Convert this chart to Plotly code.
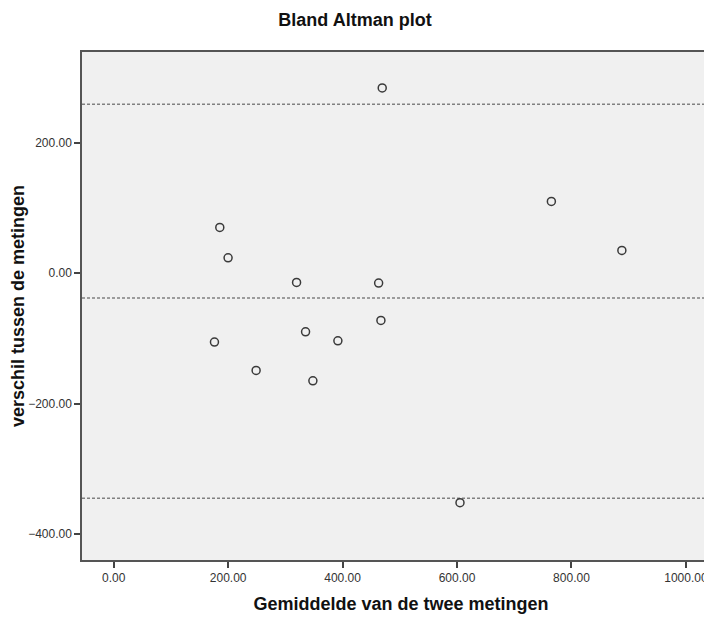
import plotly.graph_objects as go

# Data
mean_values = [469.3, 185.4, 199.9, 319.6, 463.0, 467.0, 335.3, 176.1, 391.8, 248.9, 348.1, 764.9, 888.1, 605.2]
diff_values = [284.0, 70.0, 23.4, -14.3, -15.3, -72.5, -90.0, -105.7, -103.8, -149.1, -165.1, 109.9, 34.8, -352.0]
reference_lines = [259.0, -38.0, -345.0]  # upper limit, mean difference, lower limit
x_ticks = [0, 200, 400, 600, 800, 1000]
y_ticks = [-400, -200, 0, 200]

FONT = "Liberation Sans, Arial, sans-serif"

fig = go.Figure()
fig.add_trace(go.Scatter(
    x=mean_values, y=diff_values, mode="markers",
    marker=dict(symbol="circle-open", size=8, color="#3a3a3a", line=dict(width=1.5)),
    showlegend=False, hoverinfo="x+y",
))

for yv in reference_lines:
    fig.add_hline(y=yv, line=dict(color="#808080", width=1.5, dash="3px,2px"), layer="below")

fig.update_layout(
    width=712, height=617,
    margin=dict(l=74, r=0, t=44, b=65),
    paper_bgcolor="white", plot_bgcolor="#f0f0f0",
    font=dict(family=FONT, size=12, color="#222"),
    title=dict(text="<b>Bland Altman plot</b>", x=347 / 712, xref="container", xanchor="center",
               y=1 - 12 / 617, yref="container", yanchor="middle",
               font=dict(family=FONT, size=18, color="#111")),
)

fig.update_xaxes(
    range=[-55.4, 1059.6], tickvals=x_ticks, tickformat=".2f",
    showgrid=False, zeroline=False, automargin=False,
    showline=True, linecolor="#555", linewidth=1.5, mirror=True,
    ticks="outside", ticklen=6, tickwidth=1.5, tickcolor="#444",
    tickfont=dict(family=FONT, size=12, color="#333"),
    title=dict(text="<b>Gemiddelde van de twee metingen</b>", standoff=13,
               font=dict(family=FONT, size=18, color="#111")),
)
fig.update_yaxes(
    range=[-439.8, 339], tickvals=y_ticks, tickformat=".2f",
    showgrid=False, zeroline=False, automargin=False,
    showline=True, linecolor="#555", linewidth=1.5,
    ticks="outside", ticklen=6, tickwidth=1.5, tickcolor="#444",
    tickfont=dict(family=FONT, size=12, color="#333"),
    title=dict(text="<b>verschil tussen de metingen</b>", standoff=2,
               font=dict(family=FONT, size=18, color="#111")),
)

fig.write_html("out.html")
